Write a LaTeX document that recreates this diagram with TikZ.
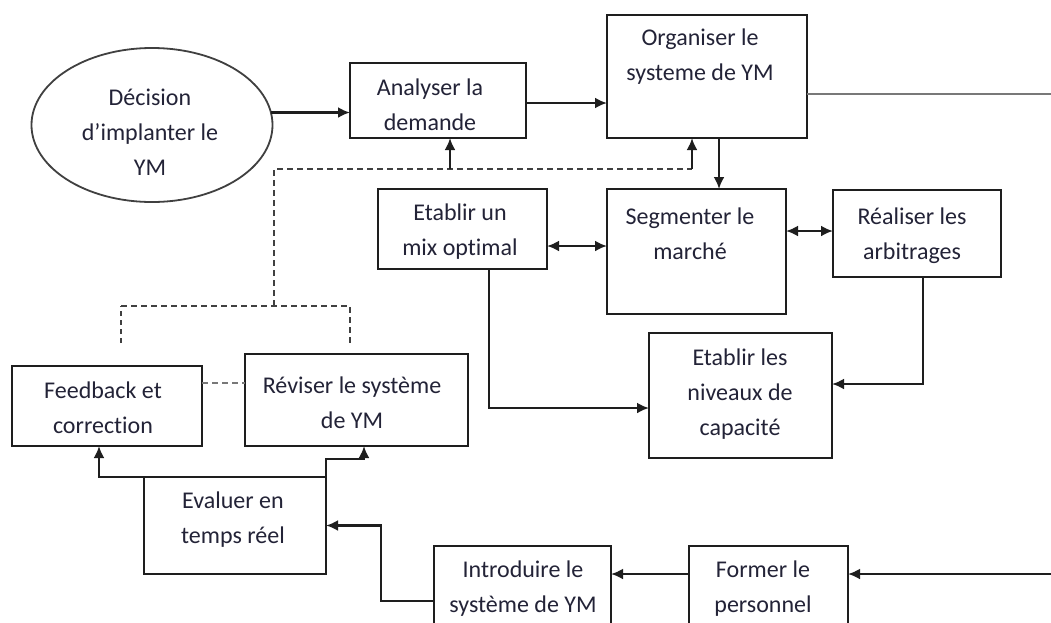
\documentclass[tikz,border=0pt]{standalone}
\usepackage{fontspec}
\setmainfont{Carlito}[Ligatures=CommonOff]
\usetikzlibrary{arrows.meta,shapes.geometric}
\definecolor{ln}{RGB}{30,30,30}
\definecolor{txt}{RGB}{35,35,55}
\begin{document}
\begin{tikzpicture}[x=1pt,y=-1pt,
  box/.style={draw=ln,line width=2.4pt,inner sep=0pt,outer sep=0pt,fill=white},
  arr/.style={ln,line width=2.4pt,-{Latex[length=12pt,width=11pt]}},
  darr/.style={ln,line width=2.4pt,{Latex[length=12pt,width=11pt]}-{Latex[length=12pt,width=11pt]}},
  dsh/.style={ln!85,line width=1.8pt,dash pattern=on 6pt off 4pt},
  lbl/.style={text=txt,align=center,font=\fontsize{24}{35}\selectfont,inner sep=0pt}]
\useasboundingbox (0,0) rectangle (1051,622);
\clip (0,0) rectangle (1051,622);
\fill[white] (0,0) rectangle (1051,622);
% boxes
\node[draw=ln!85,line width=1.8pt,ellipse,minimum width=241pt,minimum height=154pt,inner sep=0pt,outer sep=0pt] (ell) at (152,125) {};
\node[box,minimum width=176pt,minimum height=75pt] (ana) at (438,100.5) {};
\node[box,minimum width=200pt,minimum height=123pt] (org) at (707,76.5) {};
\node[box,minimum width=169pt,minimum height=80pt] (mix) at (462.5,229) {};
\node[box,minimum width=179pt,minimum height=125pt] (seg) at (696.5,251.5) {};
\node[box,minimum width=168pt,minimum height=87pt] (rea) at (917,233.5) {};
\node[box,minimum width=183pt,minimum height=125pt] (niv) at (740.5,395.5) {};
\node[box,minimum width=190pt,minimum height=80pt] (fb) at (107,406) {};
\node[box,minimum width=223pt,minimum height=92pt] (rev) at (356.5,400) {};
\node[box,minimum width=182pt,minimum height=97pt] (eva) at (235,525.5) {};
\node[box,minimum width=177pt,minimum height=100pt] (intro) at (522.5,596) {};
\node[box,minimum width=159pt,minimum height=100pt] (form) at (768.5,596) {};
% labels
\node[lbl] (t1) at (150,132) {Décision\\d’implanter le\\YM};
\node[lbl] (t2) at (430,105) {Analyser la\\demande};
\node[lbl] (t3) at (700,57) {Organiser le\\systeme de YM};
\node[lbl] (t4) at (460,232) {Etablir un\\mix optimal};
\node[lbl] (t5) at (690,234) {Segmenter le\\marché};
\node[lbl] (t6) at (912,236) {Réaliser les\\arbitrages};
\node[lbl] (t7) at (740,394) {Etablir les\\niveaux de\\capacité};
\node[lbl] (t8) at (103,408) {Feedback et\\correction};
\node[lbl] (t9) at (352,403) {Réviser le système\\de YM};
\node[lbl] (t10) at (233,520) {Evaluer en\\temps réel};
\node[lbl] (t11) at (523,589) {Introduire le\\système de YM};
\node[lbl] (t12) at (763,589) {Former le\\personnel};
% free ends
\coordinate (rA) at (1051,94);
\coordinate (rB) at (1051,574);
\coordinate (d1) at (121,343);
\coordinate (d2) at (350,343);
\coordinate (hL) at (121,306);
\coordinate (hR) at (350,306);
\coordinate (j) at (274,306);
\coordinate (top) at (274,169);
% connectors
\draw[arr] (ell.6) -- (ell.6 -| ana.west);
\draw[arr] ([yshift=-2.5pt]ana.east) -- ([yshift=-2.5pt]ana.east -| org.west);
\draw[ln!60,line width=1.6pt] (org.east |- rA) -- (rA);
\draw[arr] ([xshift=12pt]org.south) -- ([xshift=12pt]org.south |- seg.north);
\draw[darr] ([yshift=-17pt]mix.east) -- ([yshift=-17pt]mix.east -| seg.west);
\draw[darr] ([yshift=20.5pt]seg.east) -- ([yshift=20.5pt]seg.east -| rea.west);
\draw[arr] ([xshift=6pt]rea.south) |- ([yshift=11.5pt]niv.east);
\draw[arr] ([xshift=26.5pt]mix.south) |- ([yshift=-12.5pt]niv.west);
\draw[dsh,line width=2.4pt,dash pattern=on 5pt off 4pt] (d1) -- (hL);
\draw[dsh] (hL) -- (hR) -- (d2);
\draw[dsh] (j) -- (top) -- ([xshift=-15pt]org.south |- top);
\draw[arr] ([xshift=12pt]ana.south |- top) -- ([xshift=12pt]ana.south);
\draw[arr] ([xshift=-15pt]org.south |- top) -- ([xshift=-15pt]org.south);
\draw[dsh,line width=1.3pt,ln!60] ([yshift=23pt]fb.east) -- ([yshift=23pt]fb.east -| rev.west);
\draw[arr] (eva.north west) -| ([xshift=-8pt]fb.south);
\draw[arr] (eva.north east) -- ++(0,-18) -| ([xshift=7.5pt]rev.south);
\draw[arr] ([yshift=-5pt]intro.west) -- ++(-53,0) |- (eva.east);
\draw[arr] ([yshift=22pt]form.west) -- ([yshift=22pt]form.west -| intro.east);
\draw[arr] (rB) -- (rB -| form.east);
\end{tikzpicture}
\end{document}
